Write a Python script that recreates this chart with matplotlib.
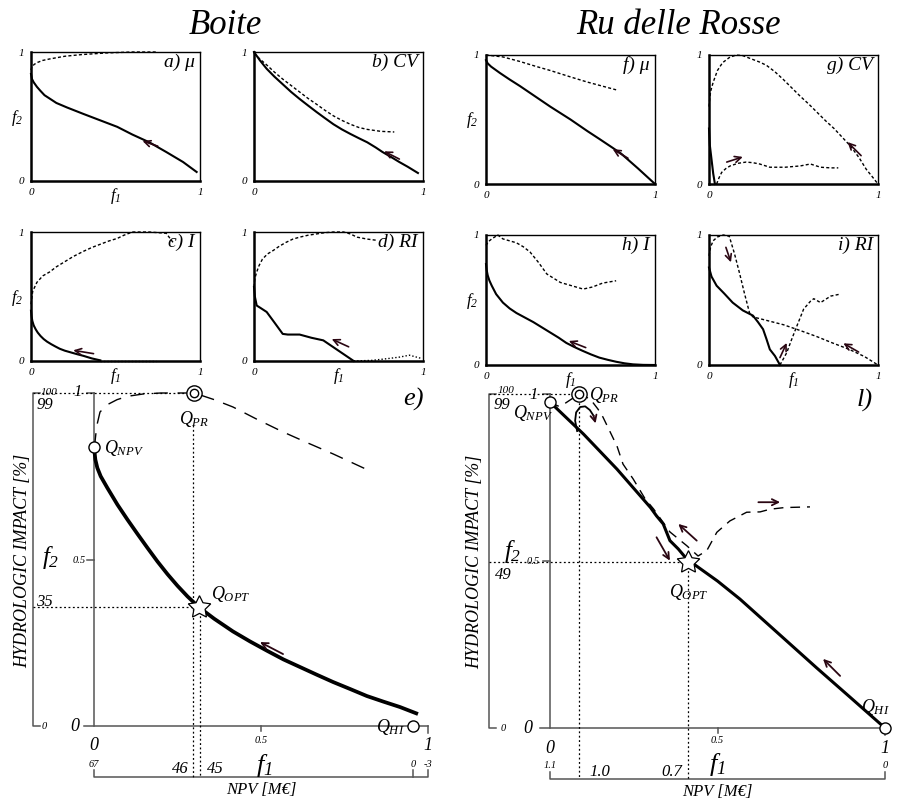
import matplotlib
matplotlib.use('Agg')
import matplotlib.pyplot as plt

plt.rcParams['font.family'] = ['Liberation Serif', 'DejaVu Serif']
plt.rcParams['font.style'] = 'italic'
plt.rcParams['mathtext.fontset'] = 'custom'
plt.rcParams['mathtext.it'] = 'Liberation Serif:italic'
plt.rcParams['mathtext.rm'] = 'Liberation Serif:italic'
plt.rcParams['mathtext.default'] = 'it'

# ---------------- data: small panels (f1, f2) ----------------
a_sol_x = [0, 0.006, 0.016, 0.035, 0.055, 0.08, 0.114, 0.15, 0.213, 0.31, 0.41, 0.51, 0.6, 0.70, 0.8, 0.90, 0.98]
a_sol_y = [0.83, 0.79, 0.765, 0.73, 0.70, 0.665, 0.636, 0.605, 0.57, 0.52, 0.47, 0.42, 0.36, 0.30, 0.225, 0.147, 0.07]
a_dash_x = [0.0, 0.005, 0.02, 0.04, 0.07, 0.11, 0.2, 0.30, 0.45, 0.6, 0.75]
a_dash_y = [0.86, 0.885, 0.905, 0.92, 0.935, 0.946, 0.967, 0.98, 0.993, 1.0, 1.0]
a_arrow = [0.75, 0.27, 0.66, 0.31]

b_sol_x = [0, 0.035, 0.075, 0.12, 0.17, 0.22, 0.27, 0.32, 0.37, 0.42, 0.47, 0.52, 0.57, 0.62, 0.67, 0.72, 0.76, 0.81, 0.86, 0.91, 0.97]
b_sol_y = [1.0, 0.935, 0.87, 0.81, 0.75, 0.69, 0.636, 0.585, 0.535, 0.487, 0.44, 0.40, 0.365, 0.332, 0.30, 0.26, 0.225, 0.187, 0.147, 0.11, 0.062]
b_dash_x = [0, 0.035, 0.075, 0.12, 0.17, 0.22, 0.27, 0.32, 0.37, 0.42, 0.47, 0.52, 0.57, 0.62, 0.67, 0.75, 0.83]
b_dash_y = [0.99, 0.945, 0.9, 0.845, 0.79, 0.74, 0.69, 0.64, 0.595, 0.548, 0.505, 0.47, 0.44, 0.415, 0.40, 0.385, 0.38]
b_arrow = [0.86, 0.17, 0.77, 0.23]

c_sol_x = [0, 0.003, 0.008, 0.016, 0.028, 0.04, 0.057, 0.075, 0.095, 0.12, 0.145, 0.17, 0.2, 0.24, 0.275, 0.31, 0.36, 0.41]
c_sol_y = [0.39, 0.35, 0.31, 0.276, 0.245, 0.22, 0.193, 0.17, 0.15, 0.13, 0.112, 0.095, 0.08, 0.065, 0.052, 0.04, 0.02, 0.005]
c_dot_x = [0.41, 0.74]
c_dot_y = [0.003, 0.003]
c_dash_x = [0, 0.01, 0.035, 0.07, 0.11, 0.15, 0.2, 0.25, 0.31, 0.36, 0.41, 0.46, 0.51, 0.55, 0.6, 0.7, 0.8, 0.84]
c_dash_y = [0.44, 0.54, 0.61, 0.66, 0.69, 0.73, 0.77, 0.81, 0.85, 0.88, 0.905, 0.93, 0.95, 0.975, 1.0, 1.0, 0.99, 0.92]
c_arrow = [0.37, 0.057, 0.25, 0.083]

d_sol_x = [0, 0.005, 0.016, 0.04, 0.075, 0.12, 0.17, 0.2, 0.27, 0.34, 0.41, 0.5, 0.59]
d_sol_y = [0.574, 0.50, 0.43, 0.41, 0.38, 0.30, 0.21, 0.205, 0.205, 0.18, 0.16, 0.08, 0.0]
d_dot_x = [0.59, 0.7, 0.8, 0.86, 0.92, 0.99]
d_dot_y = [0.0, 0.005, 0.02, 0.03, 0.045, 0.02]
d_dash_x = [0, 0.005, 0.016, 0.03, 0.05, 0.08, 0.114, 0.15, 0.19, 0.23, 0.27, 0.32, 0.37, 0.42, 0.47, 0.53, 0.57, 0.61, 0.67, 0.73]
d_dash_y = [0.574, 0.64, 0.69, 0.74, 0.79, 0.83, 0.857, 0.89, 0.92, 0.945, 0.96, 0.975, 0.985, 0.995, 1.0, 1.0, 0.985, 0.96, 0.945, 0.935]
d_arrow = [0.56, 0.11, 0.46, 0.17]

f_sol_x = [0, 0.01, 0.03, 0.083, 0.14, 0.2, 0.29, 0.38, 0.5, 0.6, 0.67, 0.75, 0.8, 0.9, 1.0]
f_sol_y = [0.96, 0.935, 0.91, 0.86, 0.81, 0.76, 0.68, 0.60, 0.50, 0.41, 0.35, 0.28, 0.235, 0.12, 0.0]
f_dash_x = [0, 0.1, 0.2, 0.3, 0.38, 0.5, 0.6, 0.77]
f_dash_y = [1.0, 0.985, 0.95, 0.91, 0.88, 0.83, 0.79, 0.73]
f_arrow = [0.84, 0.2, 0.75, 0.27]

g_sol_x = [0, 0.005, 0.015, 0.025, 0.035]
g_sol_y = [0.43, 0.3, 0.19, 0.08, 0.0]
g_dash1_x = [0, 0.005, 0.01, 0.025, 0.05, 0.08, 0.12, 0.16, 0.2, 0.25, 0.3, 0.34, 0.39, 0.44, 0.49, 0.54, 0.59, 0.64, 0.69, 0.74, 0.79, 0.84, 0.89, 0.93, 0.97, 1.0]
g_dash1_y = [0.6, 0.67, 0.72, 0.79, 0.88, 0.94, 0.98, 1.0, 0.995, 0.97, 0.945, 0.92, 0.87, 0.81, 0.745, 0.68, 0.62, 0.555, 0.49, 0.43, 0.36, 0.29, 0.2, 0.115, 0.05, 0.0]
g_dash2_x = [0.045, 0.06, 0.075, 0.1, 0.125, 0.17, 0.22, 0.26, 0.30, 0.36, 0.45, 0.54, 0.6, 0.66, 0.72, 0.765]
g_dash2_y = [0.0, 0.05, 0.09, 0.12, 0.14, 0.16, 0.17, 0.165, 0.155, 0.13, 0.13, 0.14, 0.155, 0.13, 0.125, 0.125]
g_arrow1 = [0.105, 0.17, 0.2, 0.21]
g_arrow2 = [0.9, 0.22, 0.82, 0.325]

h_sol_x = [0, 0.004, 0.01, 0.02, 0.034, 0.06, 0.1, 0.14, 0.18, 0.23, 0.28, 0.33, 0.38, 0.43, 0.475, 0.52, 0.57, 0.62, 0.67, 0.72, 0.77, 0.82, 0.87, 0.93, 1.0]
h_sol_y = [0.776, 0.73, 0.69, 0.65, 0.61, 0.545, 0.48, 0.435, 0.40, 0.365, 0.33, 0.29, 0.25, 0.21, 0.17, 0.14, 0.11, 0.082, 0.057, 0.04, 0.025, 0.013, 0.005, 0.001, 0.0]
h_dash_x = [0, 0.015, 0.034, 0.07, 0.1, 0.18, 0.22, 0.26, 0.31, 0.36, 0.44, 0.575, 0.63, 0.69, 0.77]
h_dash_y = [0.92, 0.95, 0.97, 1.0, 0.97, 0.94, 0.91, 0.87, 0.79, 0.70, 0.635, 0.584, 0.6, 0.63, 0.648]
h_arrow = [0.59, 0.134, 0.49, 0.185]

i_sol_x = [0, 0.015, 0.045, 0.09, 0.14, 0.2, 0.26, 0.29, 0.32, 0.34, 0.36, 0.39, 0.42]
i_sol_y = [0.75, 0.68, 0.61, 0.55, 0.48, 0.42, 0.38, 0.33, 0.275, 0.2, 0.12, 0.07, 0.0]
i_dash1_x = [0, 0.01, 0.025, 0.05, 0.085, 0.12, 0.15, 0.18, 0.21, 0.24, 0.26, 0.35, 0.44, 0.54, 0.635, 0.73, 0.83, 0.92, 1.0]
i_dash1_y = [0.84, 0.91, 0.956, 0.985, 1.0, 0.99, 0.86, 0.71, 0.55, 0.40, 0.37, 0.34, 0.31, 0.265, 0.22, 0.17, 0.12, 0.065, 0.0]
i_dash2_x = [0.42, 0.46, 0.49, 0.52, 0.56, 0.6, 0.62, 0.66, 0.72, 0.775]
i_dash2_y = [0.0, 0.095, 0.2, 0.3, 0.43, 0.49, 0.51, 0.48, 0.53, 0.545]
i_arrow1 = [0.1, 0.905, 0.13, 0.79]
i_arrow2 = [0.42, 0.057, 0.46, 0.17]
i_arrow3 = [0.885, 0.1, 0.795, 0.167]

# ---------------- data: panel e (Boite) ----------------
e_front_f1 = [0, 0.004, 0.01, 0.02, 0.04, 0.07, 0.1, 0.13, 0.16, 0.19, 0.22, 0.25, 0.28, 0.315,
              0.36, 0.416, 0.467, 0.518, 0.567, 0.617, 0.667, 0.716, 0.767, 0.817, 0.867, 0.916, 0.97]
e_front_f2 = [0.838, 0.80, 0.775, 0.75, 0.715, 0.665, 0.62, 0.577, 0.535, 0.494, 0.456, 0.421, 0.389, 0.356,
              0.322, 0.284, 0.254, 0.226, 0.2, 0.177, 0.154, 0.132, 0.111, 0.09, 0.073, 0.057, 0.036]
e_dash_f1 = [0, 0.003, 0.008, 0.018, 0.04, 0.069, 0.1, 0.147, 0.2, 0.25, 0.30, 0.36, 0.416, 0.49, 0.566, 0.64, 0.716, 0.826]
e_dash_f2 = [0.838, 0.853, 0.90, 0.943, 0.965, 0.98, 0.99, 0.997, 1.0, 1.0, 1.0, 0.98, 0.958, 0.92, 0.883, 0.85, 0.817, 0.766]
e_npv = (0.0, 0.838)
e_pr = (0.30, 1.0)
e_opt = (0.315, 0.356)
e_hi = (0.955, 0.0)
e_arrow = [0.566, 0.216, 0.497, 0.252]
e_npv_ticks = ["67", "46", "45", "0", "-3"]

# ---------------- data: panel l (Ru delle Rosse) ----------------
l_front_f1 = [0, 0.006, 0.1, 0.2, 0.3, 0.318, 0.338, 0.358, 0.383, 0.408, 0.5, 0.567, 0.696, 0.796, 0.896, 1.0]
l_front_f2 = [0.976, 0.97, 0.88, 0.775, 0.66, 0.635, 0.611, 0.561, 0.536, 0.506, 0.44, 0.386, 0.27, 0.18, 0.092, 0.0]
l_dash_f1 = [0.0, 0.024, 0.045, 0.087, 0.12, 0.143, 0.158, 0.2, 0.218, 0.248, 0.284, 0.309, 0.358, 0.408, 0.442,
             0.468, 0.498, 0.537, 0.587, 0.627, 0.657, 0.7, 0.776]
l_dash_f2 = [0.976, 0.964, 0.972, 1.0, 0.985, 0.955, 0.931, 0.844, 0.79, 0.746, 0.686, 0.656, 0.587, 0.546, 0.515,
             0.531, 0.586, 0.62, 0.646, 0.647, 0.655, 0.66, 0.662]
l_npv = (0.0, 0.976)
l_pr = (0.087, 1.0)
l_opt = (0.413, 0.496)
l_hi = (1.0, 0.0)
l_loop_f1 = [0.081, 0.075, 0.078, 0.09, 0.105, 0.119, 0.13, 0.136]
l_loop_f2 = [0.889, 0.92, 0.945, 0.961, 0.963, 0.952, 0.935, 0.912]
l_arrows = [[0.318, 0.571, 0.358, 0.501],
            [0.438, 0.561, 0.383, 0.611],
            [0.622, 0.676, 0.687, 0.676],
            [0.866, 0.156, 0.815, 0.207]]

W, H = 900, 804
fig = plt.figure(figsize=(9, 8.04), dpi=100)
GREY = '#555555'
ARC = '#2a0612'


def px_axes(l, t, r, b):
    return fig.add_axes([l / W, 1 - b / H, (r - l) / W, (b - t) / H])


def arrow(ax, a, lw=1.2):
    ax.annotate('', xy=(a[2], a[3]), xytext=(a[0], a[1]),
                arrowprops=dict(arrowstyle='->,head_length=0.45,head_width=0.22',
                                color=ARC, lw=lw, shrinkA=0, shrinkB=0),
                annotation_clip=False)


DOT = (0, (2.2, 1.6))


def small_panel(box, label, sol, dashes, arrows, dots=None, f2lab=False, f1lab=False):
    ax = px_axes(*box)
    ax.set_xlim(0, 1)
    ax.set_ylim(0, 1)
    ax.set_xticks([])
    ax.set_yticks([])
    ax.patch.set_alpha(0)
    for s in ['top', 'right']:
        ax.spines[s].set_linewidth(1.0)
    for s in ['left', 'bottom']:
        ax.spines[s].set_linewidth(1.8)
    ax.plot(sol[0], sol[1], color='black', lw=1.5, clip_on=False)
    for d in dashes:
        ax.plot(d[0], d[1], color='black', lw=1.0, linestyle=DOT, clip_on=False)
    if dots is not None:
        ax.plot(dots[0], dots[1], color='black', lw=1.0, linestyle=(0, (1, 1.5)), clip_on=False)
    for a in arrows:
        arrow(ax, a)
    ax.text(0.97, 0.93, label, transform=ax.transAxes, ha='right', va='center', fontsize=14)
    ax.text(-0.04, 1.0, '1', transform=ax.transAxes, ha='right', va='center', fontsize=8)
    ax.text(-0.04, 0.0, '0', transform=ax.transAxes, ha='right', va='center', fontsize=8)
    ax.text(0.0, -0.045, '0', transform=ax.transAxes, ha='center', va='top', fontsize=8)
    ax.text(1.0, -0.045, '1', transform=ax.transAxes, ha='center', va='top', fontsize=8)
    if f2lab:
        ax.text(-0.045, 0.5, r'$f_2$', transform=ax.transAxes, ha='right', va='center', fontsize=12)
    if f1lab:
        ax.text(0.5, -0.03, r'$f_1$', transform=ax.transAxes, ha='center', va='top', fontsize=12)
    return ax


small_panel((31, 53, 200, 182), 'a) μ', (a_sol_x, a_sol_y), [(a_dash_x, a_dash_y)], [a_arrow], f2lab=True, f1lab=True)
small_panel((254, 53, 423, 182), 'b) CV', (b_sol_x, b_sol_y), [(b_dash_x, b_dash_y)], [b_arrow])
small_panel((31, 233, 200, 362), 'c) I', (c_sol_x, c_sol_y), [(c_dash_x, c_dash_y)], [c_arrow],
            dots=(c_dot_x, c_dot_y), f2lab=True, f1lab=True)
small_panel((254, 233, 423, 362), 'd) RI', (d_sol_x, d_sol_y), [(d_dash_x, d_dash_y)], [d_arrow],
            dots=(d_dot_x, d_dot_y), f1lab=True)
small_panel((486, 56, 655, 185), 'f) μ', (f_sol_x, f_sol_y), [(f_dash_x, f_dash_y)], [f_arrow], f2lab=True)
small_panel((709, 56, 878, 185), 'g) CV', (g_sol_x, g_sol_y), [(g_dash1_x, g_dash1_y), (g_dash2_x, g_dash2_y)],
            [g_arrow1, g_arrow2])
small_panel((486, 236, 655, 366), 'h) I', (h_sol_x, h_sol_y), [(h_dash_x, h_dash_y)], [h_arrow], f2lab=True, f1lab=True)
small_panel((709, 236, 878, 366), 'i) RI', (i_sol_x, i_sol_y), [(i_dash1_x, i_dash1_y), (i_dash2_x, i_dash2_y)],
            [i_arrow1, i_arrow2, i_arrow3], f1lab=True)

fig.text(225 / W, 1 - 25 / H, 'Boite', ha='center', va='center', fontsize=25)
fig.text(678 / W, 1 - 25 / H, 'Ru delle Rosse', ha='center', va='center', fontsize=25)


def big_axes(box, px0, px1, py0, py1):
    l, t, r, b = box
    ax = px_axes(l, t, r, b)
    ax.set_xlim((l - px0) / (px1 - px0), (r - px0) / (px1 - px0))
    ax.set_ylim((py0 - b) / (py0 - py1), (py0 - t) / (py0 - py1))
    ax.axis('off')
    ax.patch.set_alpha(0)
    return ax


def frame(ax, xo, yn, ticks_npv):
    ax.plot([0, 0], [0, 1], color=GREY, lw=1.1)
    ax.plot([-0.03, 1.0], [0, 0], color=GREY, lw=1.1)
    ax.plot([-0.02, 0], [1, 1], color=GREY, lw=1.1)
    ax.plot([-0.02, 0], [0.5, 0.5], color=GREY, lw=1.1)
    ax.plot([0.5, 0.5], [0, -0.015], color=GREY, lw=1.1)
    ax.plot([1.0, 1.0], [0, -0.02], color=GREY, lw=1.1)
    ax.plot([xo + 0.02, xo, xo, xo + 0.02], [1, 1, 0, 0], color=GREY, lw=1.1)
    ax.plot([0, 0, 1, 1], [yn + 0.02, yn, yn, yn + 0.02], color=GREY, lw=1.1)
    for t in ticks_npv:
        ax.plot([t, t], [yn, yn + 0.02], color=GREY, lw=1.1)


DOTL = (0, (1.5, 2))

# ---------------- panel e ----------------
ax = big_axes((0, 380, 450, 804), 94, 428, 727, 394)
xo, yn = -0.183, -0.153
frame(ax, xo, yn, [0.955])
ax.plot([xo, e_pr[0]], [1, 1], color='black', lw=0.9, linestyle=DOTL)
ax.plot([xo, e_opt[0]], [e_opt[1], e_opt[1]], color='black', lw=0.9, linestyle=DOTL)
ax.plot([e_pr[0] - 0.005, e_pr[0] - 0.005], [0.905, yn], color='black', lw=0.9, linestyle=DOTL)
ax.plot([e_opt[0] + 0.003, e_opt[0] + 0.003], [e_opt[1], yn], color='black', lw=0.9, linestyle=DOTL)
ax.plot(e_dash_f1, e_dash_f2, color='black', lw=1.0, linestyle=(0, (10, 7)))
ax.plot(e_front_f1, e_front_f2, color='black', lw=2.7, solid_capstyle='butt', solid_joinstyle='round')
arrow(ax, e_arrow, lw=1.3)
ax.plot(*e_npv, marker='o', ms=8, mfc='white', mec='black', mew=1.0)
ax.plot(*e_hi, marker='o', ms=8, mfc='white', mec='black', mew=1.0)
ax.plot(*e_pr, marker='o', ms=11, mfc='white', mec='black', mew=1.0)
ax.plot(*e_pr, marker='o', ms=6, mfc='white', mec='black', mew=1.0)
ax.plot(*e_opt, marker=(5, 1, 0), ms=17, mfc='white', mec='black', mew=0.9)
ax.text(0.03, e_npv[1], r'$Q_{NPV}$', fontsize=13, ha='left', va='center')
ax.text(e_pr[0], 0.925, r'$Q_{PR}$', fontsize=13, ha='center', va='center')
ax.text(0.35, 0.40, r'$Q_{OPT}$', fontsize=13, ha='left', va='center')
ax.text(0.93, 0.0, r'$Q_{HI}$', fontsize=13, ha='right', va='center')
ax.text(0.955, 0.985, 'e)', fontsize=19, ha='center', va='center')
ax.text(-0.135, 1.005, '100', fontsize=8, ha='center', va='center')
ax.text(-0.05, 1.005, '1', fontsize=12, ha='center', va='center')
ax.text(-0.148, 0.967, '99', fontsize=12, ha='center', va='center')
ax.text(-0.13, 0.51, r'$f_2$', fontsize=18, ha='center', va='center')
ax.text(-0.045, 0.5, '0.5', fontsize=7.5, ha='center', va='center')
ax.text(-0.148, 0.375, '35', fontsize=12, ha='center', va='center')
ax.text(-0.15, 0.0, '0', fontsize=7.5, ha='center', va='center')
ax.text(-0.057, 0.0, '0', fontsize=13, ha='center', va='center')
ax.text(0.0, -0.055, '0', fontsize=13, ha='center', va='center')
ax.text(0.5, -0.04, '0.5', fontsize=7.5, ha='center', va='center')
ax.text(1.0, -0.055, '1', fontsize=13, ha='center', va='center')
ax.text(0.51, -0.115, r'$f_1$', fontsize=19, ha='center', va='center')
ax.text(0.0, -0.112, e_npv_ticks[0], fontsize=7.5, ha='center', va='center')
ax.text(0.257, -0.125, e_npv_ticks[1], fontsize=12, ha='center', va='center')
ax.text(0.363, -0.125, e_npv_ticks[2], fontsize=12, ha='center', va='center')
ax.text(0.955, -0.112, e_npv_ticks[3], fontsize=7.5, ha='center', va='center')
ax.text(1.0, -0.112, e_npv_ticks[4], fontsize=7.5, ha='center', va='center')
ax.text(0.5, -0.19, 'NPV [M€]', fontsize=12, ha='center', va='center')
ax.text(-0.215, 0.5, 'HYDROLOGIC IMPACT [%]', fontsize=13, ha='center', va='center', rotation=90)

# ---------------- panel l ----------------
ax = big_axes((450, 380, 900, 804), 550, 885, 729, 395)
xo, yn = -0.182, -0.153
frame(ax, xo, yn, [])
ax.plot([xo, l_pr[0]], [1, 1], color='black', lw=0.9, linestyle=DOTL)
ax.plot([xo, l_opt[0]], [l_opt[1], l_opt[1]], color='black', lw=0.9, linestyle=DOTL)
ax.plot([l_pr[0], l_pr[0]], [1, yn], color='black', lw=0.9, linestyle=DOTL)
ax.plot([l_opt[0], l_opt[0]], [l_opt[1], yn], color='black', lw=0.9, linestyle=DOTL)
ax.plot(l_dash_f1, l_dash_f2, color='black', lw=1.0, linestyle=(0, (7, 5)))
ax.plot(l_front_f1, l_front_f2, color='black', lw=2.2, solid_capstyle='butt', solid_joinstyle='round')
ax.plot(l_loop_f1[:-1], l_loop_f2[:-1], color='black', lw=1.3)
arrow(ax, [l_loop_f1[-2], l_loop_f2[-2], l_loop_f1[-1], l_loop_f2[-1]], lw=1.3)
for a in l_arrows:
    arrow(ax, a, lw=1.3)
ax.plot(*l_npv, marker='o', ms=8, mfc='white', mec='black', mew=1.0)
ax.plot(*l_hi, marker='o', ms=8, mfc='white', mec='black', mew=1.0)
ax.plot(*l_pr, marker='o', ms=11, mfc='white', mec='black', mew=1.0)
ax.plot(*l_pr, marker='o', ms=6, mfc='white', mec='black', mew=1.0)
ax.plot(*l_opt, marker=(5, 1, 0), ms=17, mfc='white', mec='black', mew=0.9)
ax.text(-0.05, 0.945, r'$Q_{NPV}$', fontsize=13, ha='center', va='center')
ax.text(0.115, 1.0, r'$Q_{PR}$', fontsize=13, ha='left', va='center')
ax.text(0.413, 0.41, r'$Q_{OPT}$', fontsize=13, ha='center', va='center')
ax.text(0.97, 0.066, r'$Q_{HI}$', fontsize=13, ha='center', va='center')
ax.text(0.94, 0.985, 'l)', fontsize=19, ha='center', va='center')
ax.text(-0.13, 1.012, '100', fontsize=8, ha='center', va='center')
ax.text(-0.05, 1.0, '1', fontsize=12, ha='center', va='center')
ax.text(-0.143, 0.97, '99', fontsize=12, ha='center', va='center')
ax.text(-0.11, 0.53, r'$f_2$', fontsize=18, ha='center', va='center')
ax.text(-0.05, 0.50, '0.5', fontsize=7.5, ha='center', va='center')
ax.text(-0.14, 0.46, '49', fontsize=12, ha='center', va='center')
ax.text(-0.14, 0.0, '0', fontsize=7.5, ha='center', va='center')
ax.text(-0.065, 0.0, '0', fontsize=13, ha='center', va='center')
ax.text(0.0, -0.057, '0', fontsize=13, ha='center', va='center')
ax.text(0.5, -0.035, '0.5', fontsize=7.5, ha='center', va='center')
ax.text(1.0, -0.057, '1', fontsize=13, ha='center', va='center')
ax.text(0.5, -0.105, r'$f_1$', fontsize=19, ha='center', va='center')
ax.text(0.0, -0.11, '1.1', fontsize=7.5, ha='center', va='center')
ax.text(0.15, -0.128, '1.0', fontsize=12, ha='center', va='center')
ax.text(0.365, -0.128, '0.7', fontsize=12, ha='center', va='center')
ax.text(1.0, -0.11, '0', fontsize=7.5, ha='center', va='center')
ax.text(0.5, -0.19, 'NPV [M€]', fontsize=12, ha='center', va='center')
ax.text(-0.224, 0.5, 'HYDROLOGIC IMPACT [%]', fontsize=13, ha='center', va='center', rotation=90)

fig.savefig('out.png', dpi=100)
